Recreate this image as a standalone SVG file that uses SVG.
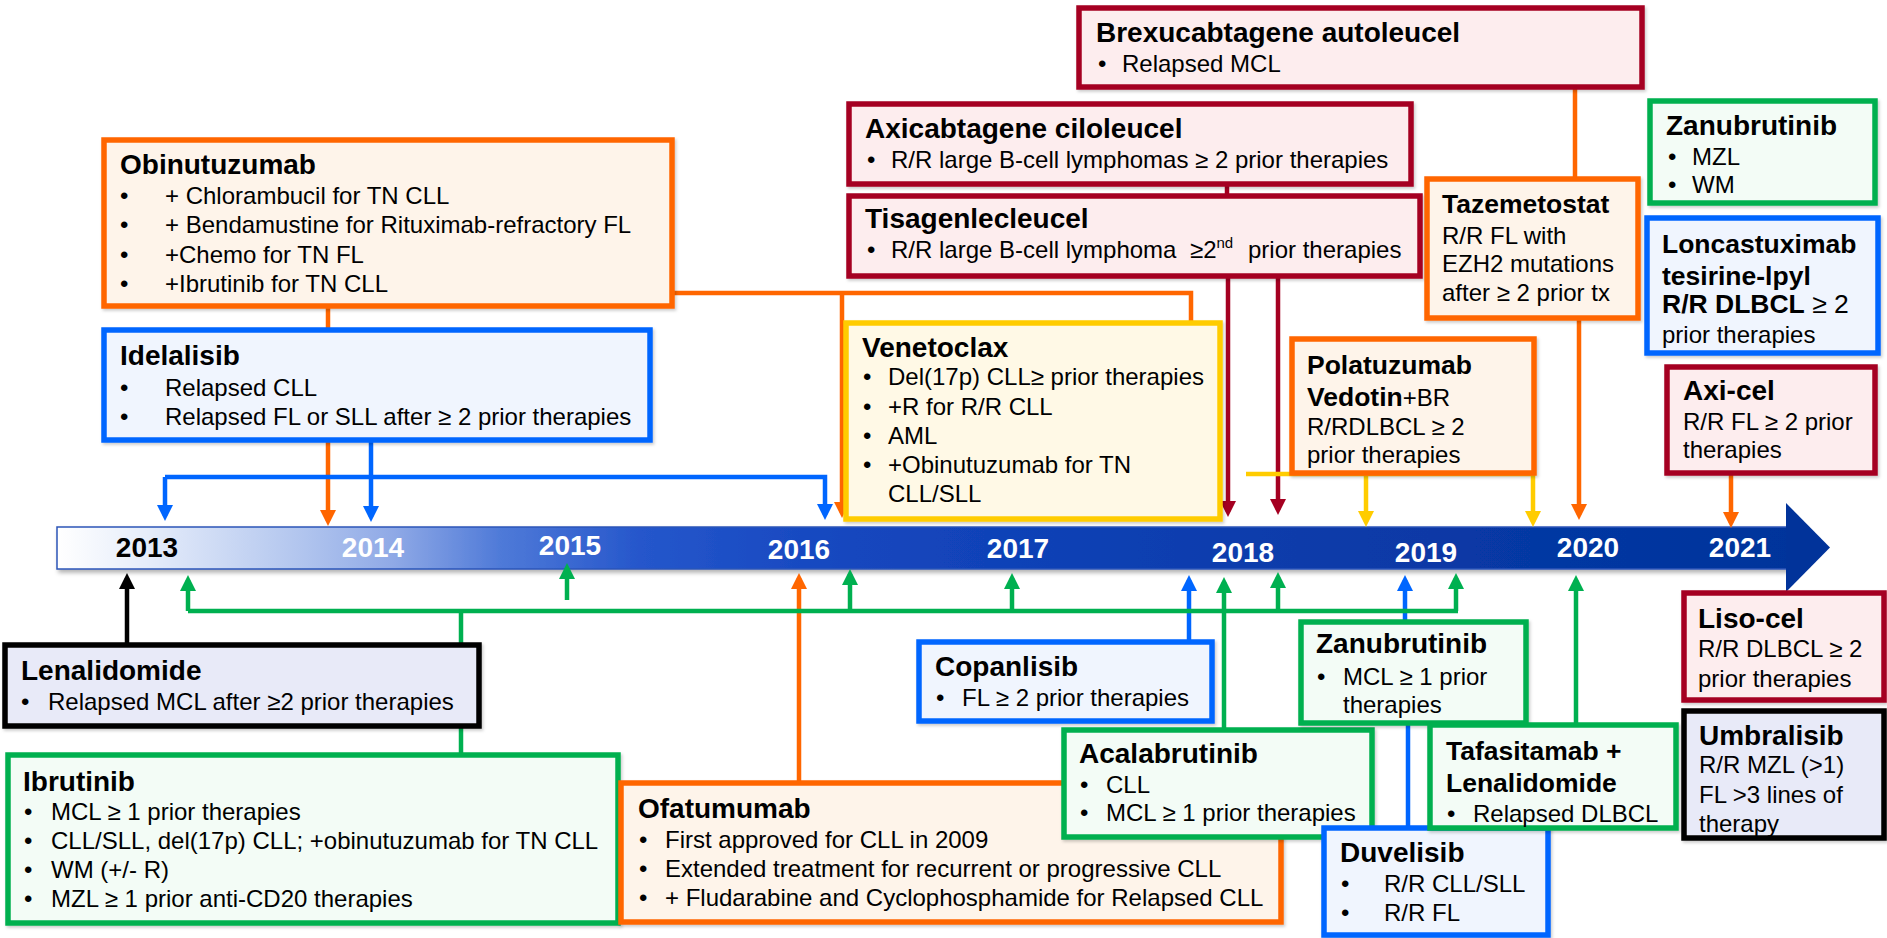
<svg xmlns="http://www.w3.org/2000/svg" width="1887" height="938" viewBox="0 0 1887 938">
<style>
text{font-family:"Liberation Sans",Arial,Helvetica,sans-serif;fill:#000}
.t{font-size:28px;font-weight:bold}
.ts{font-size:26.5px;font-weight:bold}
.b{font-size:24px}
.n{font-weight:normal}
.yr{font-size:28px;font-weight:bold;fill:#fff;text-anchor:middle}
.box{stroke-width:5.5}
.or{stroke:#FF6600;fill:#FEF4EA}
.rd{stroke:#A50021;fill:#FDEDEE}
.bl{stroke:#0066FF;fill:#F0F5FE}
.gr{stroke:#00B050;fill:#F3FCF6}
.ye{stroke:#FFCC00;fill:#FFF9E6}
.bk{stroke:#000;fill:#E8EAF8}
.ln{fill:none;stroke-width:4.5}
.lo{stroke:#FF6600}.lr{stroke:#A50021}.lb{stroke:#0066FF}.lg{stroke:#00B050}.ly{stroke:#FFCC00}.lk{stroke:#000}
</style>
<defs>
<linearGradient id="barg" gradientUnits="userSpaceOnUse" x1="57" y1="0" x2="1830" y2="0">
<stop offset="0" stop-color="#FFFFFF"/>
<stop offset="0.05" stop-color="#E6EDFA"/>
<stop offset="0.14" stop-color="#B0C4EE"/>
<stop offset="0.19" stop-color="#8FA9E6"/>
<stop offset="0.25" stop-color="#4F7AD8"/>
<stop offset="0.33" stop-color="#2556CB"/>
<stop offset="0.45" stop-color="#1446BE"/>
<stop offset="0.7" stop-color="#0A3BAA"/>
<stop offset="1" stop-color="#01339A"/>
</linearGradient>
<filter id="sh" x="-5%" y="-20%" width="110%" height="150%">
<feDropShadow dx="2" dy="3" stdDeviation="2" flood-color="#000" flood-opacity="0.3"/>
</filter>
<filter id="bsh" x="-5%" y="-10%" width="110%" height="130%">
<feDropShadow dx="1.5" dy="2" stdDeviation="1.5" flood-color="#000" flood-opacity="0.2"/>
</filter>
<marker id="ao" viewBox="0 0 16 16" refX="11" refY="8" markerWidth="16" markerHeight="16" markerUnits="userSpaceOnUse" orient="auto"><path d="M0,0L16,8L0,16z" fill="#FF6600"/></marker>
<marker id="ar" viewBox="0 0 16 16" refX="11" refY="8" markerWidth="16" markerHeight="16" markerUnits="userSpaceOnUse" orient="auto"><path d="M0,0L16,8L0,16z" fill="#A50021"/></marker>
<marker id="ab" viewBox="0 0 16 16" refX="11" refY="8" markerWidth="16" markerHeight="16" markerUnits="userSpaceOnUse" orient="auto"><path d="M0,0L16,8L0,16z" fill="#0066FF"/></marker>
<marker id="ag" viewBox="0 0 16 16" refX="11" refY="8" markerWidth="16" markerHeight="16" markerUnits="userSpaceOnUse" orient="auto"><path d="M0,0L16,8L0,16z" fill="#00B050"/></marker>
<marker id="ay" viewBox="0 0 16 16" refX="11" refY="8" markerWidth="16" markerHeight="16" markerUnits="userSpaceOnUse" orient="auto"><path d="M0,0L16,8L0,16z" fill="#FFCC00"/></marker>
<marker id="ak" viewBox="0 0 16 16" refX="11" refY="8" markerWidth="16" markerHeight="16" markerUnits="userSpaceOnUse" orient="auto"><path d="M0,0L16,8L0,16z" fill="#000"/></marker>
</defs>
<rect width="1887" height="938" fill="#fff"/>

<g id="timeline">
<rect x="57" y="527" width="1731" height="42" fill="url(#barg)" stroke="#2B56B8" stroke-width="1.5" filter="url(#sh)"/>
<polygon points="1786,503 1830,547.5 1786,592" fill="#01339A"/>
<text class="yr" x="147" y="557" style="fill:#000">2013</text>
<text class="yr" x="373" y="557">2014</text>
<text class="yr" x="570" y="555">2015</text>
<text class="yr" x="799" y="559">2016</text>
<text class="yr" x="1018" y="558">2017</text>
<text class="yr" x="1243" y="562">2018</text>
<text class="yr" x="1426" y="562">2019</text>
<text class="yr" x="1588" y="557">2020</text>
<text class="yr" x="1740" y="557">2021</text>
</g>

<g id="connectors">
<path class="ln lo" d="M328,306V330"/>
<path class="ln lo" d="M328,440V521" marker-end="url(#ao)"/>
<path class="ln lo" d="M670,293H1191V515" marker-end="url(#ao)"/>
<path class="ln lo" d="M842,293V513" marker-end="url(#ao)"/>
<path class="ln lo" d="M799,783V578" marker-end="url(#ao)"/>
<path class="ln lo" d="M1575,87V179"/>
<path class="ln lo" d="M1579,318V515" marker-end="url(#ao)"/>
<path class="ln lo" d="M1731,473V523" marker-end="url(#ao)"/>
<path class="ln lr" d="M1227,184V196"/>
<path class="ln lr" d="M1228,276V512" marker-end="url(#ar)"/>
<path class="ln lr" d="M1278,276V510" marker-end="url(#ar)"/>
<path class="ln lb" d="M371,440V517" marker-end="url(#ab)"/>
<path class="ln lb" d="M165,477H825V515" marker-end="url(#ab)"/>
<path class="ln lb" d="M165,477V516" marker-end="url(#ab)"/>
<path class="ln lb" d="M1189,642V580" marker-end="url(#ab)"/>
<path class="ln lb" d="M1405,622V580" marker-end="url(#ab)"/>
<path class="ln lb" d="M1408,723V828"/>
<path class="ln lg" d="M188,611H1458"/>
<path class="ln lg" d="M188,611V580" marker-end="url(#ag)"/>
<path class="ln lg" d="M567,600V568" marker-end="url(#ag)"/>
<path class="ln lg" d="M850,611V574" marker-end="url(#ag)"/>
<path class="ln lg" d="M1012,611V578" marker-end="url(#ag)"/>
<path class="ln lg" d="M1278,611V577" marker-end="url(#ag)"/>
<path class="ln lg" d="M1456,611V578" marker-end="url(#ag)"/>
<path class="ln lg" d="M461,611V645"/>
<path class="ln lg" d="M461,726V755"/>
<path class="ln lg" d="M1224,730V582" marker-end="url(#ag)"/>
<path class="ln lg" d="M1576,725V580" marker-end="url(#ag)"/>
<path class="ln ly" d="M1246,474H1533V522" marker-end="url(#ay)"/>
<path class="ln ly" d="M1366,474V522" marker-end="url(#ay)"/>
<path class="ln lk" d="M127,644V578" marker-end="url(#ak)"/>
</g>

<g id="obinutuzumab">
<rect class="box or" x="104" y="140" width="568" height="166" filter="url(#bsh)"/>
<text class="t" x="120" y="174">Obinutuzumab</text>
<text class="b" x="120" y="204">•</text><text class="b" x="165" y="204">+ Chlorambucil for TN CLL</text>
<text class="b" x="120" y="233">•</text><text class="b" x="165" y="233">+ Bendamustine for Rituximab-refractory FL</text>
<text class="b" x="120" y="263">•</text><text class="b" x="165" y="263">+Chemo for TN FL</text>
<text class="b" x="120" y="292">•</text><text class="b" x="165" y="292">+Ibrutinib for TN CLL</text>
</g>

<g id="idelalisib">
<rect class="box bl" x="104" y="330" width="546" height="110" filter="url(#bsh)"/>
<text class="t" x="120" y="365">Idelalisib</text>
<text class="b" x="120" y="396">•</text><text class="b" x="165" y="396">Relapsed CLL</text>
<text class="b" x="120" y="425">•</text><text class="b" x="165" y="425">Relapsed FL or SLL after ≥ 2 prior therapies</text>
</g>

<g id="brexucabtagene">
<rect class="box rd" x="1079" y="8" width="563" height="79" filter="url(#bsh)"/>
<text class="t" x="1096" y="42">Brexucabtagene autoleucel</text>
<text class="b" x="1098" y="72">•</text><text class="b" x="1122" y="72">Relapsed MCL</text>
</g>

<g id="axicabtagene">
<rect class="box rd" x="849" y="104" width="562" height="80" filter="url(#bsh)"/>
<text class="t" x="865" y="138">Axicabtagene ciloleucel</text>
<text class="b" x="867" y="168">•</text><text class="b" x="891" y="168">R/R large B-cell lymphomas ≥ 2 prior therapies</text>
</g>

<g id="tisagenlecleucel">
<rect class="box rd" x="849" y="196" width="571" height="80" filter="url(#bsh)"/>
<text class="t" x="865" y="228">Tisagenlecleucel</text>
<text class="b" x="867" y="258">•</text>
<text class="b" y="258"><tspan x="891">R/R large B-cell lymphoma</tspan><tspan x="1190">≥2</tspan><tspan font-size="15" dy="-10">nd</tspan><tspan x="1248" dy="10">prior therapies</tspan></text>
</g>

<g id="venetoclax">
<rect class="box ye" x="846" y="323" width="374" height="196" filter="url(#bsh)"/>
<text class="t" x="862" y="357">Venetoclax</text>
<text class="b" x="863" y="385">•</text><text class="b" x="888" y="385">Del(17p) CLL≥ prior therapies</text>
<text class="b" x="863" y="415">•</text><text class="b" x="888" y="415">+R for R/R CLL</text>
<text class="b" x="863" y="444">•</text><text class="b" x="888" y="444">AML</text>
<text class="b" x="863" y="473">•</text><text class="b" x="888" y="473">+Obinutuzumab for TN</text>
<text class="b" x="888" y="502">CLL/SLL</text>
</g>

<g id="polatuzumab">
<rect class="box or" x="1292" y="339" width="242" height="134" filter="url(#bsh)"/>
<text class="ts" x="1307" y="374">Polatuzumab</text>
<text class="ts" x="1307" y="406">Vedotin<tspan class="n" font-size="24">+BR</tspan></text>
<text class="b" x="1307" y="435">R/RDLBCL ≥ 2</text>
<text class="b" x="1307" y="463">prior therapies</text>
</g>

<g id="tazemetostat">
<rect class="box or" x="1427" y="179" width="211" height="139" filter="url(#bsh)"/>
<text class="ts" x="1442" y="213">Tazemetostat</text>
<text class="b" x="1442" y="244">R/R FL with</text>
<text class="b" x="1442" y="272">EZH2 mutations</text>
<text class="b" x="1442" y="301">after ≥ 2 prior tx</text>
</g>

<g id="zanubrutinib-2021">
<rect class="box gr" x="1650" y="101" width="225" height="102" filter="url(#bsh)"/>
<text class="t" x="1666" y="135">Zanubrutinib</text>
<text class="b" x="1668" y="165">•</text><text class="b" x="1692" y="165">MZL</text>
<text class="b" x="1668" y="193">•</text><text class="b" x="1692" y="193">WM</text>
</g>

<g id="loncastuximab">
<rect class="box bl" x="1647" y="218" width="231" height="135" filter="url(#bsh)"/>
<text class="ts" x="1662" y="253">Loncastuximab</text>
<text class="ts" x="1662" y="285">tesirine-lpyl</text>
<text class="ts" x="1662" y="313" font-size="24">R/R DLBCL<tspan class="n"> ≥ 2</tspan></text>
<text class="b" x="1662" y="343">prior therapies</text>
</g>

<g id="axi-cel">
<rect class="box rd" x="1667" y="367" width="208" height="106" filter="url(#bsh)"/>
<text class="t" x="1683" y="400">Axi-cel</text>
<text class="b" x="1683" y="430">R/R FL ≥ 2 prior</text>
<text class="b" x="1683" y="458">therapies</text>
</g>

<g id="lenalidomide">
<rect class="box bk" x="5" y="645" width="474" height="81" filter="url(#bsh)"/>
<text class="t" x="21" y="680">Lenalidomide</text>
<text class="b" x="21" y="710">•</text><text class="b" x="48" y="710">Relapsed MCL after ≥2 prior therapies</text>
</g>

<g id="ibrutinib">
<rect class="box gr" x="8" y="755" width="610" height="168" filter="url(#bsh)"/>
<text class="t" x="23" y="791">Ibrutinib</text>
<text class="b" x="24" y="820">•</text><text class="b" x="51" y="820">MCL ≥ 1 prior therapies</text>
<text class="b" x="24" y="849">•</text><text class="b" x="51" y="849">CLL/SLL, del(17p) CLL; +obinutuzumab for TN CLL</text>
<text class="b" x="24" y="878">•</text><text class="b" x="51" y="878">WM (+/- R)</text>
<text class="b" x="24" y="907">•</text><text class="b" x="51" y="907">MZL ≥ 1 prior anti-CD20 therapies</text>
</g>

<g id="ofatumumab">
<rect class="box or" x="621" y="783" width="660" height="139" filter="url(#bsh)"/>
<text class="t" x="638" y="818">Ofatumumab</text>
<text class="b" x="639" y="848">•</text><text class="b" x="665" y="848">First approved for CLL in 2009</text>
<text class="b" x="639" y="877">•</text><text class="b" x="665" y="877">Extended treatment for recurrent or progressive CLL</text>
<text class="b" x="639" y="906">•</text><text class="b" x="665" y="906">+ Fludarabine and Cyclophosphamide for Relapsed CLL</text>
</g>

<g id="copanlisib">
<rect class="box bl" x="919" y="642" width="293" height="79" filter="url(#bsh)"/>
<text class="t" x="935" y="676">Copanlisib</text>
<text class="b" x="936" y="706">•</text><text class="b" x="962" y="706">FL ≥ 2 prior therapies</text>
</g>

<g id="acalabrutinib">
<rect class="box gr" x="1064" y="730" width="308" height="107" filter="url(#bsh)"/>
<text class="t" x="1079" y="763">Acalabrutinib</text>
<text class="b" x="1080" y="793">•</text><text class="b" x="1106" y="793">CLL</text>
<text class="b" x="1080" y="821">•</text><text class="b" x="1106" y="821">MCL ≥ 1 prior therapies</text>
</g>

<g id="zanubrutinib-2019">
<rect class="box gr" x="1301" y="622" width="225" height="101" filter="url(#bsh)"/>
<text class="t" x="1316" y="653">Zanubrutinib</text>
<text class="b" x="1317" y="685">•</text><text class="b" x="1343" y="685">MCL ≥ 1 prior</text>
<text class="b" x="1343" y="713">therapies</text>
</g>

<g id="duvelisib">
<rect class="box bl" x="1324" y="828" width="224" height="107" filter="url(#bsh)"/>
<text class="t" x="1340" y="862">Duvelisib</text>
<text class="b" x="1341" y="892">•</text><text class="b" x="1384" y="892">R/R CLL/SLL</text>
<text class="b" x="1341" y="921">•</text><text class="b" x="1384" y="921">R/R FL</text>
</g>

<g id="tafasitamab">
<rect class="box gr" x="1430" y="725" width="246" height="103" filter="url(#bsh)"/>
<text class="ts" x="1446" y="760">Tafasitamab +</text>
<text class="ts" x="1446" y="792">Lenalidomide</text>
<text class="b" x="1447" y="822">•</text><text class="b" x="1473" y="822">Relapsed DLBCL</text>
</g>

<g id="liso-cel">
<rect class="box rd" x="1684" y="593" width="200" height="107" filter="url(#bsh)"/>
<text class="t" x="1698" y="628">Liso-cel</text>
<text class="b" x="1698" y="657">R/R DLBCL ≥ 2</text>
<text class="b" x="1698" y="687">prior therapies</text>
</g>

<g id="umbralisib">
<rect class="box bk" x="1684" y="711" width="200" height="127" filter="url(#bsh)"/>
<text class="t" x="1699" y="745">Umbralisib</text>
<text class="b" x="1699" y="773">R/R MZL (&gt;1)</text>
<text class="b" x="1699" y="803">FL &gt;3 lines of</text>
<text class="b" x="1699" y="832">therapy</text>
</g>
</svg>
